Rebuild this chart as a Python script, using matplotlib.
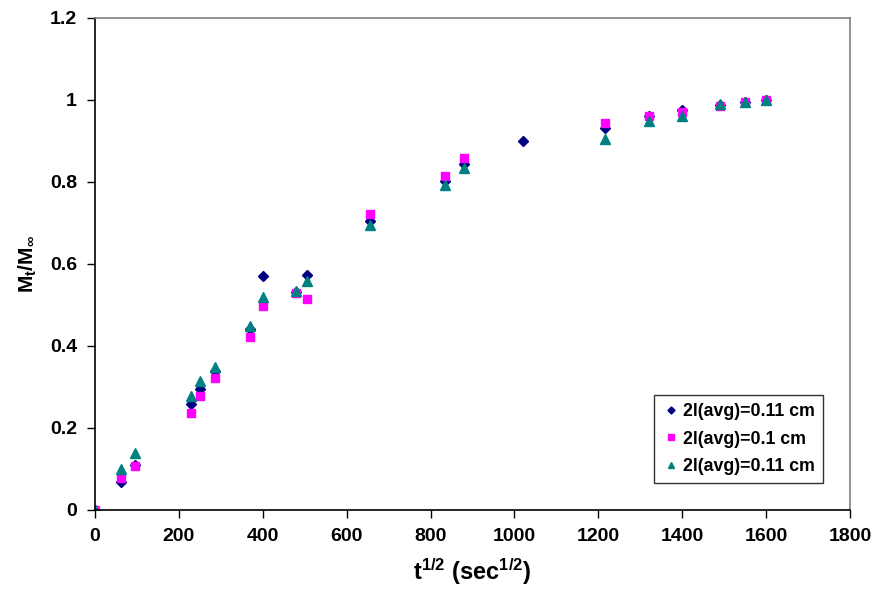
import matplotlib
matplotlib.use("Agg")
import matplotlib.pyplot as plt

plt.rcParams['font.family'] = ['Liberation Sans', 'DejaVu Sans']
plt.rcParams['font.weight'] = 'bold'
plt.rcParams['mathtext.fontset'] = 'custom'
plt.rcParams['mathtext.bf'] = 'Liberation Sans:bold'
plt.rcParams['mathtext.rm'] = 'Liberation Sans:bold'
plt.rcParams['mathtext.it'] = 'Liberation Sans:bold'
plt.rcParams['mathtext.default'] = 'bf'

# Square-root time (sec^1/2) and fractional uptake for three samples
t1 = [0, 62, 95, 228, 250, 285, 370, 400, 480, 505, 655, 835, 880, 1020, 1215, 1320, 1400, 1490, 1550, 1600]
m1 = [0, 0.069, 0.110, 0.258, 0.295, 0.339, 0.441, 0.571, 0.532, 0.573, 0.706, 0.802, 0.845, 0.901, 0.931, 0.962, 0.976, 0.988, 0.995, 1.0]

t2 = [0, 62, 95, 228, 250, 285, 370, 400, 480, 505, 655, 835, 880, 1215, 1320, 1400, 1490, 1550, 1600]
m2 = [0, 0.077, 0.107, 0.237, 0.278, 0.323, 0.423, 0.498, 0.530, 0.515, 0.721, 0.815, 0.858, 0.943, 0.962, 0.971, 0.985, 0.994, 1.0]

t3 = [0, 62, 95, 228, 250, 285, 370, 400, 480, 505, 655, 835, 880, 1215, 1320, 1400, 1490, 1550, 1600]
m3 = [0, 0.099, 0.138, 0.279, 0.314, 0.348, 0.449, 0.520, 0.535, 0.559, 0.695, 0.792, 0.835, 0.905, 0.950, 0.961, 0.990, 0.995, 1.0]

labels = ['2l(avg)=0.11 cm', '2l(avg)=0.1 cm', '2l(avg)=0.11 cm']

fig = plt.figure(figsize=(8.78, 6.0), dpi=100)
ax = fig.add_axes([95/878, 90/600, 755/878, 492/600])

ax.plot(t1, m1, linestyle='none', marker='D', markersize=4.8, color='#000080', label=labels[0])
ax.plot(t2, m2, linestyle='none', marker='s', markersize=6, color='#FF00FF', label=labels[1])
ax.plot(t3, m3, linestyle='none', marker='^', markersize=6.5, color='#008080', label=labels[2])

ax.set_xlim(0, 1800)
ax.set_ylim(0, 1.2)
ax.set_xticks(range(0, 1801, 200))
ax.set_yticks([0, 0.2, 0.4, 0.6, 0.8, 1.0, 1.2])
ax.set_yticklabels(['0', '0.2', '0.4', '0.6', '0.8', '1', '1.2'])

ax.tick_params(direction='out', length=6, width=1, labelsize=14, pad=7)
for lab in ax.get_xticklabels() + ax.get_yticklabels():
    lab.set_fontweight('bold')

ax.spines['left'].set_color('black')
ax.spines['bottom'].set_color('black')
ax.spines['top'].set_color('#808080')
ax.spines['right'].set_color('#808080')
for s in ax.spines.values():
    s.set_linewidth(1.2)

ax.set_xlabel(r'$t^{1/2}$ (sec$^{1/2}$)', fontsize=17, fontweight='bold', labelpad=8)
ax.set_ylabel(r'$M_t/M_\infty$', fontsize=15, fontweight='bold', labelpad=8)

leg = ax.legend(loc='upper left', bbox_to_anchor=(0.740, 0.234), frameon=True, fancybox=False,
                edgecolor='black', fontsize=12.8, handletextpad=0.2, handlelength=1.0,
                borderpad=0.45, labelspacing=0.6, borderaxespad=0, markerscale=0.75)
leg.get_frame().set_linewidth(1.0)
for txt in leg.get_texts():
    txt.set_fontweight('bold')

fig.savefig('out.png', dpi=100)
